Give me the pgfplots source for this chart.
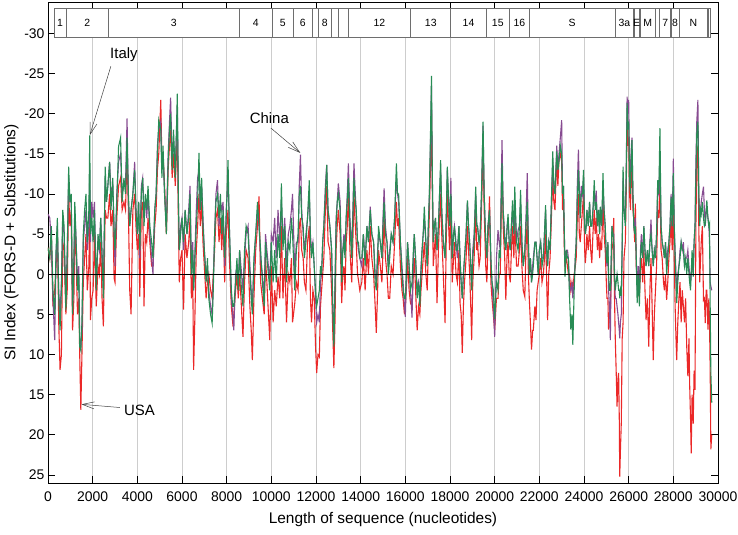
\documentclass[border=0pt]{standalone}
\usepackage{fontspec}
\setmainfont{Liberation Sans}
\usepackage{pgfplots}
\pgfplotsset{compat=1.18}
\usepackage{pgfplotstable}
\usetikzlibrary{arrows.meta}
\definecolor{cred}{RGB}{235,40,40}
\definecolor{cpur}{RGB}{135,75,145}
\definecolor{cgrn}{RGB}{40,140,85}
\definecolor{boxc}{RGB}{110,110,110}
\definecolor{gridc}{RGB}{205,205,205}

\pgfplotstableread{
x g p r
0 -3.3 -7.5 -3.3
80 -2 -7 -2
150 -6 -4 -5
220 2 3 4
300 5 8.2 2
360 -3 -2 -1
420 -7 -6 -5
480 3 2 6
540 7 5 11.9
600 2 1 10
660 -8 -7 -4
720 -6 -5 -3
800 4.5 3 5
860 -2 -3 2
925 -13.4 -12 -10
980 -9 -9 -6
1040 -10 -9 -8
1100 5 4 7
1160 -2 -1 3
1200 -9 -8 -6
1260 -4 -4 -2
1320 2 1 5
1380 0 -1 3
1420 9 8 10
1470 9.5 9 16.9
1520 6 7 10
1580 -5 -4 1
1640 -8 -6 -2
1700 -10 -8 -5
1760 -4 -3 2
1830 -8 -6 -1
1870 -17.3 -13 -8
1900 -5 -4 5.7
1960 -7 -9 3
2020 -4 -7 2
2080 -8 -9 -5
2160 2 1 4
2240 -5 -4 -1
2300 -3 -3 0
2360 -7 -7 -4
2420 -2 -3 3
2480 3 2 6.5
2560 -13.4 -12 -8
2620 -9 -9 -7
2680 -11 -11 -7
2760 -14 -14 -10
2820 -8 -10 -6
2900 -12 -11 -8
2960 -5 -6 0.5
3000 -3 -1 1
3080 -9 -10 -7
3160 -15.9 -14 -11
3250 -17 -15 -12
3320 -9 -10 -8
3400 -12 -11 -9
3470 -10 -11 -8
3540 -17 -19.4 -15
3600 -10 -9 -8
3660 -6 -6 2
3720 -8 -8 5
3800 -10 -10 -8
3880 -13 -14 -10
3940 -8 -8 -6
4000 -5 -5 -3
4060 -9 -9 -5
4110 -3 -2 2.8
4180 -10 -11 -8
4240 -12 -12 -9
4300 -6 -8 4
4360 -10 -9 -5
4420 -8 -7 -4
4480 -11 -10 -7
4560 -6 -5 -4
4640 -4 -2 -1
4700 -2 0 -1
4780 -8 -8 -6
4840 -10 -10 -8
4900 -15 -16 -13
4960 -19.2 -18 -15
5050 -18 -19 -21.7
5100 -12 -13 -14
5150 -16 -15 -15
5220 -10 -10 -11
5300 -5 -6 -5
5380 -14 -15 -13
5440 -18 -19 -16
5490 -20 -22 -18
5560 -13 -14 -12
5620 -18 -17 -15
5700 -12 -13 -11
5790 -22.5 -21 -18
5840 -9 -9 -6
5880 -3 -3 1
5940 -5 -6 -2
6000 -7 -7 -3
6070 -4 -3 4.4
6140 -8 -8 -5
6220 -5 -5 -2
6300 -7 -8 -4
6360 -10 -11 -7
6420 0 -1 3
6480 -3 -4 0
6520 2 2 11.9
6580 -2 -3 5
6640 -6 -8 -3
6700 -9 -12 -6
6760 -15.1 -13 -10
6820 -8 -8 -6
6880 -12 -11 -9
6940 -6 -7 -4
7000 -3 -3 -1
7080 1 0 3
7140 -2 -1 1
7200 3 2 0
7280 5 4 2
7350 6.1 5 3
7400 2 1 0
7460 -5 -5 -3
7520 -9 -10 -7
7590 -10 -11.7 -8
7660 -7 -6 -4
7720 -10 -9 -7
7780 -5 -8 -3
7840 -8 -9 -7
7910 -2 -1 1
7980 -7 -8 -5
8060 -14.2 -12 -8
8120 -6 -6 -2
8210 2 3 4
8270 4 5 6
8320 4 7 5
8400 1 0 2
8460 -2 -1 0
8520 2 1 3
8580 -3 -3 0
8640 1 -1 3
8730 4 2 7.8
8800 -3 -2 1
8870 -6 -5 -3
8960 -5 -6 -2
9040 0 -1 4
9100 3 2 7
9150 5 4 10.7
9220 -2 -1 3
9300 -5 -5 -3
9380 -9 -8 -6
9450 -6 -6 -9.7
9520 -3 -2 1
9600 1 0 3
9680 4 3 5
9740 -4 -5 -2
9800 -2 -3 1
9870 0 -1 5
9930 2 1 8.2
10000 -4 -5 -1
10080 1 -4 6
10150 -3 -7 2
10220 1 -2 4
10300 -5 -8 0.3
10380 -2 -4 3
10450 -11.3 -9 -6
10520 -3 -4 3
10600 -6 -7 -2
10680 1 -1 6
10760 -4 -5 0
10830 -3 -6 1
10900 -7 -8 -2
10950 -5 -10 6
11050 2 0 3.6
11120 -3 -4 1
11200 -5 -4 2
11250 -10 -11 -6
11305 -11 -14.9 -7
11360 -7 -8 -3
11425 -6 -5 -2
11480 -2 -3 1
11550 -4 -5 2
11620 -7 -7 -4
11700 -11.7 -10 -6
11750 -4 -5 3
11800 -2 -3 6
11860 -4 -4 2
11920 -1 -1 3
11980 2 3 9
12030 4 6 12.3
12090 3 5 10
12150 2 6 10.3
12200 -1 1 4
12250 0 0 2
12300 -4 -4 0
12350 -6 -6 -2
12420 -10 -11 -8
12480 -13.6 -13.6 -11
12540 -8 -8 -4
12620 -6 -6 -3
12700 -3 -3 2
12750 4 4 7
12800 9 8 11.7
12850 2 1 6
12900 -6 -7 -3
12950 -9 -9 -6
13000 -10 -11.3 -8
13080 -8 -9 -5
13150 1 0 3.6
13200 -3 -3 0
13250 -4 -5 -1
13300 -2 -3 2
13350 -7 -7 -4
13400 -9 -10 -6
13450 -12 -13.8 -10
13520 -6 -7 -3
13600 -2 -3 1
13650 -7 -8 -4
13700 -12 -13.8 -10
13760 -9 -10 -6
13800 -8 -8 -4
13860 -4 -4 0
13900 -4 -3 0.7
13960 -2 -2 2
14050 -2 -1 1
14120 -5 -5 -2
14200 -1 -2 2
14280 -6 -6 -3
14350 -4 -4 0
14430 -8 -8.4 -6
14500 -5 -5 -2
14580 -4 -4 0
14650 1 0 4
14700 2 1 7.3
14760 -2 -3 2
14800 -6 -5 -3
14880 -4 -4 -1
14950 -2 -2 1
15000 -6 -7 -3
15050 -9 -10.7 -7
15110 -5 -6 -2
15180 -4 -4 0
15240 0 -1 3
15300 -2 -3 3
15370 -5 -5 -1
15450 -4 -4 0
15520 -7 -7 -4
15600 -13.8 -12 -9
15650 -10 -10 -6
15700 -10 -9 -7
15780 -4 -4 -1
15850 0 -1 2
15900 2 1 3
15960 3 4 5
16000 3 5.3 4
16060 -1 -1 1
16100 -4 -4 -2
16170 -1 -1 2
16230 2 2 3.6
16300 1 5.4 4
16360 -3 -2 0
16400 -5 -5 -2
16460 -2 -2 2
16530 3 2 7
16590 1 1 4
16650 4 3 5
16700 0 -1 2
16750 -3 -3 0
16800 -5 -5 -2
16850 -8.4 -7 -4
16920 -4 -4 0
16980 -1 -1 2
17030 -6 -6 -3
17080 -10.5 -10 -8
17130 -18 -17 -14
17170 -24.7 -23.5 -20
17210 -12 -12 -10
17250 -4 -4 -1
17300 -6 -6 -3
17350 -7 -7 -5
17420 -3 -3 3.6
17480 -6 -6 -3
17520 -9 -9 -6
17580 -14.2 -13 -10
17630 -8 -8 -5
17700 -4 -4 0
17780 -2 -2 6.1
17830 -7 -7 -4
17880 -13.4 -13 -10
17940 -9 -9 -6
17980 -6 -6 -3
18040 -10 -12 -8
18100 -2 -2 1
18160 -5 -5 -2
18200 -6 -6 -4
18270 -3 -4 0
18330 -3 -2 1
18400 -6 -6 -3
18450 -2 -2 3.6
18500 1 1 5
18550 3 3 9.8
18600 0 0 4
18650 -2 -2 1
18720 -5 -5 -2
18780 -9.2 -9 -6
18830 -6 -6 -3
18880 -4 -4 0
18930 -1 -1 4
18970 2 1 8.2
19020 -2 -3 1
19080 -4 -5 -2
19150 -10.9 -10 -8
19200 -6 -6 -3
19230 -6 -6 -4
19300 -4 -4 -1
19350 -5 -5 -2
19410 -10 -10 -8
19480 -19 -18.5 -16
19530 -10 -10 -8
19600 -4 -4 -1
19650 -2 -2 1
19700 -6 -6 -4
19770 -8 -8 -9.7
19830 -2 -2 1
19880 1 1 3
19940 2 4 5
20000 5.6 7.8 7
20080 1 -2 3
20150 2 -5.5 3
20200 -3 -4 0
20250 -2 -3 0
20300 -10 -12 -9
20330 -13.8 -16.7 -14.6
20380 -8 -8 -6
20450 -4 -5 -2
20500 -3 -3 3.2
20560 -6 -6 -3
20600 -7.5 -7 -4
20650 -4 -4 0
20700 -3 -3 1
20750 -6 -6 -3
20800 -9.2 -8 -6
20860 -5 -5 -2
20900 -10.9 -9 -6.8
20980 -4 -4 -1
21050 -3 -5.5 -1
21110 -6 -6 -3
21160 -10.5 -9 -6
21220 -4 -4 -1
21280 -1 -1 2
21350 -3 -3 2.8
21400 -6 -7 -3
21460 -9 -12.6 -7
21510 -4 -4 0
21550 0 0 3
21600 -2 -2 6
21650 1 1 9.4
21700 0 -1 7
21730 -1 -2 7
21800 -4 -4 4
21850 -4 -4 5.7
21900 -2 -2 2
21950 0 0 1
22000 -3 -3 0
22060 -4 -4 -2
22120 -1 -2 1
22180 -2 -2 0
22230 -5 -5 -2
22280 -8.6 -8 -5
22330 -3 -3 1
22370 -1 -1 5.7
22420 -4 -4 0
22480 -3 -3 -2
22540 -9 -9 -7
22600 -15.3 -14 -12
22650 -11 -11 -9
22700 -10 -10 -8
22780 -15.3 -16 -14.8
22830 -13 -13 -11
22880 -14 -15 -14.2
22940 -16 -17 -15
23000 -15 -19.2 -14
23040 -10 -10 -8
23080 -11 -11 -9
23120 -5 -5 -3
23150 0.3 -1 -1
23210 -3 -3 -2
23260 -2 -3 -1
23300 -2 -2 0
23350 2.7 1.5 0
23410 6.9 2 2
23460 5 1 1
23500 8.8 3 2
23560 2 1 0
23610 -2 -2 -1
23650 -4 -4 -2
23700 -9 -11 -7
23750 -13 -15.5 -10
23790 -10 -11 -5
23830 -7 -7 -4
23880 -10 -11 -6
23930 -10 -10 -8
23980 -13 -12 -10
24030 -6 -6 -3
24060 -5 -5 -1.4
24100 -6 -6 -3
24130 -8 -8 -5
24190 -6 -6 -3
24250 -9 -9 -6
24300 -6 -6 -3
24350 -6 -6 -1.4
24400 -8 -8 -5
24460 -11.7 -10 -8
24500 -8 -9 -5
24550 -9 -10.4 -7
24600 -6 -6 -3
24650 -8 -8 -5
24700 -5 -5 -2
24730 -8.4 -8 -4
24790 -6 -6 -3
24850 -12.6 -11 -9
24900 -8 -8 -5
24950 -6 -6 -3
25000 -2 -2 1
25030 -1.4 -1 3
25070 -4 -4 3
25100 0 2 6.9
25140 2 4 5
25180 2 8.2 4
25220 -2 -2 1
25250 -6 -6 -3
25300 -5 -5 -4
25330 -4 -5 -7
25360 0 -1 2
25400 2 3 8
25440 1 3 12
25480 0 4 16.5
25520 1 5 13
25550 2 6 12.3
25580 2 7 18
25600 3 8 25.2
25630 2 6 22
25670 2.7 5 18.5
25710 -4 -3 8
25750 -13.4 -12 6
25790 -8 -8 -2
25850 -6 -7 -4
25890 -12 -13 -10
25930 -21.3 -22.1 -19.6
25970 -18 -20 -16
26000 -19 -21.7 -17
26040 -12 -14 -10
26080 -10 -11 -8
26120 -15 -16 -13
26150 -16.7 -17 -14.6
26190 -10 -10 -8
26230 -6 -6 -7
26270 -5 -5 -4
26300 -6 -7 -8.8
26340 -2 -2 -1
26380 3.6 2 0.3
26430 0 -1 1
26480 4 2 3
26530 -2 -3 -1
26570 -4 -5 -2
26630 -2 -2 1
26680 -6 -6 -3
26730 -3 -3 2
26780 -1 -1 5.7
26840 -3 -3 3
26900 -1 -1 9
26950 -4 -4 2
27000 -5 -6.8 -2
27050 -3 -3 4
27100 -1 -1 10.7
27150 -3 -3 5
27200 -2 -2 2
27250 -5 -5 -1
27300 -11.7 -10.5 -8
27350 -10 -10 -7
27400 -18.2 -15 -12
27450 -6 -6 -3
27500 -4 -4 -2
27560 -3 -3 1
27600 -2 -2 2
27650 -4 -4 0
27700 0 -1 3.2
27750 -2 -3 1
27800 -4 -4 -2
27850 -6 -6 -4
27900 -9.6 -10 -7
27950 -6 -6 -3
28000 -12.6 -14.4 -10
28040 -6 -6 -2
28080 -2 -3 4
28120 1 0 8
28150 3.6 2 10.7
28200 1 0 6
28250 -1 -1 3
28300 -2 -3 1
28350 -4 -4 6
28400 -3 -3 2
28450 -3 -4 4
28500 -1 -1 6
28550 -2 -2 3
28600 0 -2 9
28650 -2 -3 12.7
28700 0 -1 8
28730 1 0 13.6
28770 2 1 18
28800 0 0 22.3
28840 -3 -2 15
28890 0.3 0 18.6
28930 -4 -4 12
28970 -6 -6 14.4
29010 -12 -14 -6
29050 -17.5 -19 -14
29100 -19 -21.7 -16
29140 -10 -10 -6
29180 -6 -7 1
29220 -8 -8 -2
29250 -7.5 -9 -4
29300 -9 -10 -6
29350 -7 -10.9 3.2
29390 -6 -8 3
29430 -6.3 -6 6.1
29470 -8 -8 2
29500 -9.2 -8 2
29550 -7 -7 6.9
29590 -6 -6 3
29620 -6.3 -4 6
29650 4 1 12
29680 12.3 1.5 21.8
29720 16 2 20
}\sidata

\begin{document}
\begin{tikzpicture}
\begin{axis}[
  at={(0,0)}, anchor=south west,
  scale only axis, width=670bp, height=481bp,
  xmin=0, xmax=30000, ymin=-33.9, ymax=26, y dir=reverse,
  scaled x ticks=false, scaled y ticks=false,
  xtick={0,2000,4000,6000,8000,10000,12000,14000,16000,18000,20000,22000,24000,26000,28000,30000},
  xticklabels={0,2000,4000,6000,8000,10000,12000,14000,16000,18000,20000,22000,24000,26000,28000,30000},
  ytick={-30,-25,-20,-15,-10,-5,0,5,10,15,20,25},
  yticklabels={-30,-25,-20,-15,-10,-5,0,5,10,15,20,25},
  tick align=inside, major tick length=7bp,
  tick style={black, line width=0.8pt},
  axis line style={black, line width=1pt},
  xmajorgrids, x grid style={gridc, line width=1pt},
  tick label style={font=\fontsize{14}{16}\selectfont},
  xticklabel shift=5bp,
  label style={font=\fontsize{15.5}{18}\selectfont},
  xlabel={Length of sequence (nucleotides)},
  ylabel={SI Index (FORS-D + Substitutions)},
  xlabel style={yshift=-4bp},
  ylabel style={yshift=-1bp},
]
\addplot[cred, line width=1.1pt, no markers] table[x=x, y=r] {\sidata};
\addplot[cpur, line width=1.1pt, no markers] table[x=x, y=p] {\sidata};
\addplot[cgrn, line width=1.1pt, no markers] table[x=x, y=g] {\sidata};
\draw[black, line width=0.8pt] (axis cs:0,0) -- (axis cs:30000,0);

% gene boxes
\tikzset{gb/.style={draw=boxc, fill=white, line width=0.8pt}, gl/.style={font=\fontsize{10.5}{12}\selectfont}}
\draw[gb] (axis cs:266,-33.1) rectangle (axis cs:805,-29.5);
\draw[gb] (axis cs:806,-33.1) rectangle (axis cs:2719,-29.5);
\draw[gb] (axis cs:2720,-33.1) rectangle (axis cs:8554,-29.5);
\draw[gb] (axis cs:8555,-33.1) rectangle (axis cs:10054,-29.5);
\draw[gb] (axis cs:10055,-33.1) rectangle (axis cs:10972,-29.5);
\draw[gb] (axis cs:10973,-33.1) rectangle (axis cs:11842,-29.5);
\draw[gb] (axis cs:11843,-33.1) rectangle (axis cs:12091,-29.5);
\draw[gb] (axis cs:12092,-33.1) rectangle (axis cs:12685,-29.5);
\draw[gb] (axis cs:12686,-33.1) rectangle (axis cs:13024,-29.5);
\draw[gb] (axis cs:13025,-33.1) rectangle (axis cs:13441,-29.5);
\draw[gb] (axis cs:13442,-33.1) rectangle (axis cs:16236,-29.5);
\draw[gb] (axis cs:16237,-33.1) rectangle (axis cs:18039,-29.5);
\draw[gb] (axis cs:18040,-33.1) rectangle (axis cs:19620,-29.5);
\draw[gb] (axis cs:19621,-33.1) rectangle (axis cs:20658,-29.5);
\draw[gb] (axis cs:20659,-33.1) rectangle (axis cs:21552,-29.5);
\draw[gb] (axis cs:21563,-33.1) rectangle (axis cs:25384,-29.5);
\draw[gb] (axis cs:25393,-33.1) rectangle (axis cs:26220,-29.5);
\draw[gb] (axis cs:26245,-33.1) rectangle (axis cs:26472,-29.5);
\draw[gb] (axis cs:26523,-33.1) rectangle (axis cs:27191,-29.5);
\draw[gb] (axis cs:27202,-33.1) rectangle (axis cs:27387,-29.5);
\draw[gb] (axis cs:27394,-33.1) rectangle (axis cs:27887,-29.5);
\draw[gb] (axis cs:27894,-33.1) rectangle (axis cs:28259,-29.5);
\draw[gb] (axis cs:28274,-33.1) rectangle (axis cs:29533,-29.5);
\draw[gb] (axis cs:29558,-33.1) rectangle (axis cs:29674,-29.5);
\node[gl] at (axis cs:535,-31.3) {1};
\node[gl] at (axis cs:1762,-31.3) {2};
\node[gl] at (axis cs:5637,-31.3) {3};
\node[gl] at (axis cs:9304,-31.3) {4};
\node[gl] at (axis cs:10513,-31.3) {5};
\node[gl] at (axis cs:11407,-31.3) {6};
\node[gl] at (axis cs:12388,-31.3) {8};
\node[gl] at (axis cs:14839,-31.3) {12};
\node[gl] at (axis cs:17138,-31.3) {13};
\node[gl] at (axis cs:18830,-31.3) {14};
\node[gl] at (axis cs:20140,-31.3) {15};
\node[gl] at (axis cs:21105,-31.3) {16};
\node[gl] at (axis cs:23473,-31.3) {S};
\node[gl] at (axis cs:25806,-31.3) {3a};
\node[gl] at (axis cs:26358,-31.3) {E};
\node[gl] at (axis cs:26857,-31.3) {M};
\node[gl] at (axis cs:27640,-31.3) {7};
\node[gl] at (axis cs:28076,-31.3) {8};
\node[gl] at (axis cs:28903,-31.3) {N};

% annotations
\tikzset{ann/.style={font=\fontsize{15}{18}\selectfont}, arr/.style={-{Straight Barb[length=12bp,width=7bp]}, black!75, line width=0.5pt}}
\draw[arr] (axis cs:2815,-25.9) -- (axis cs:1870,-17.3);
\node[ann] at (axis cs:3400,-27.4) {Italy};
\draw[arr] (axis cs:9980,-18.2) -- (axis cs:11300,-15.1);
\node[ann] at (axis cs:9910,-19.4) {China};
\draw[arr] (axis cs:3220,16.6) -- (axis cs:1495,16.2);
\node[ann] at (axis cs:4100,17.0) {USA};
\end{axis}
\pgfresetboundingbox
\path[use as bounding box] (-48bp,-52bp) rectangle (690bp,483bp);
\end{tikzpicture}
\end{document}
